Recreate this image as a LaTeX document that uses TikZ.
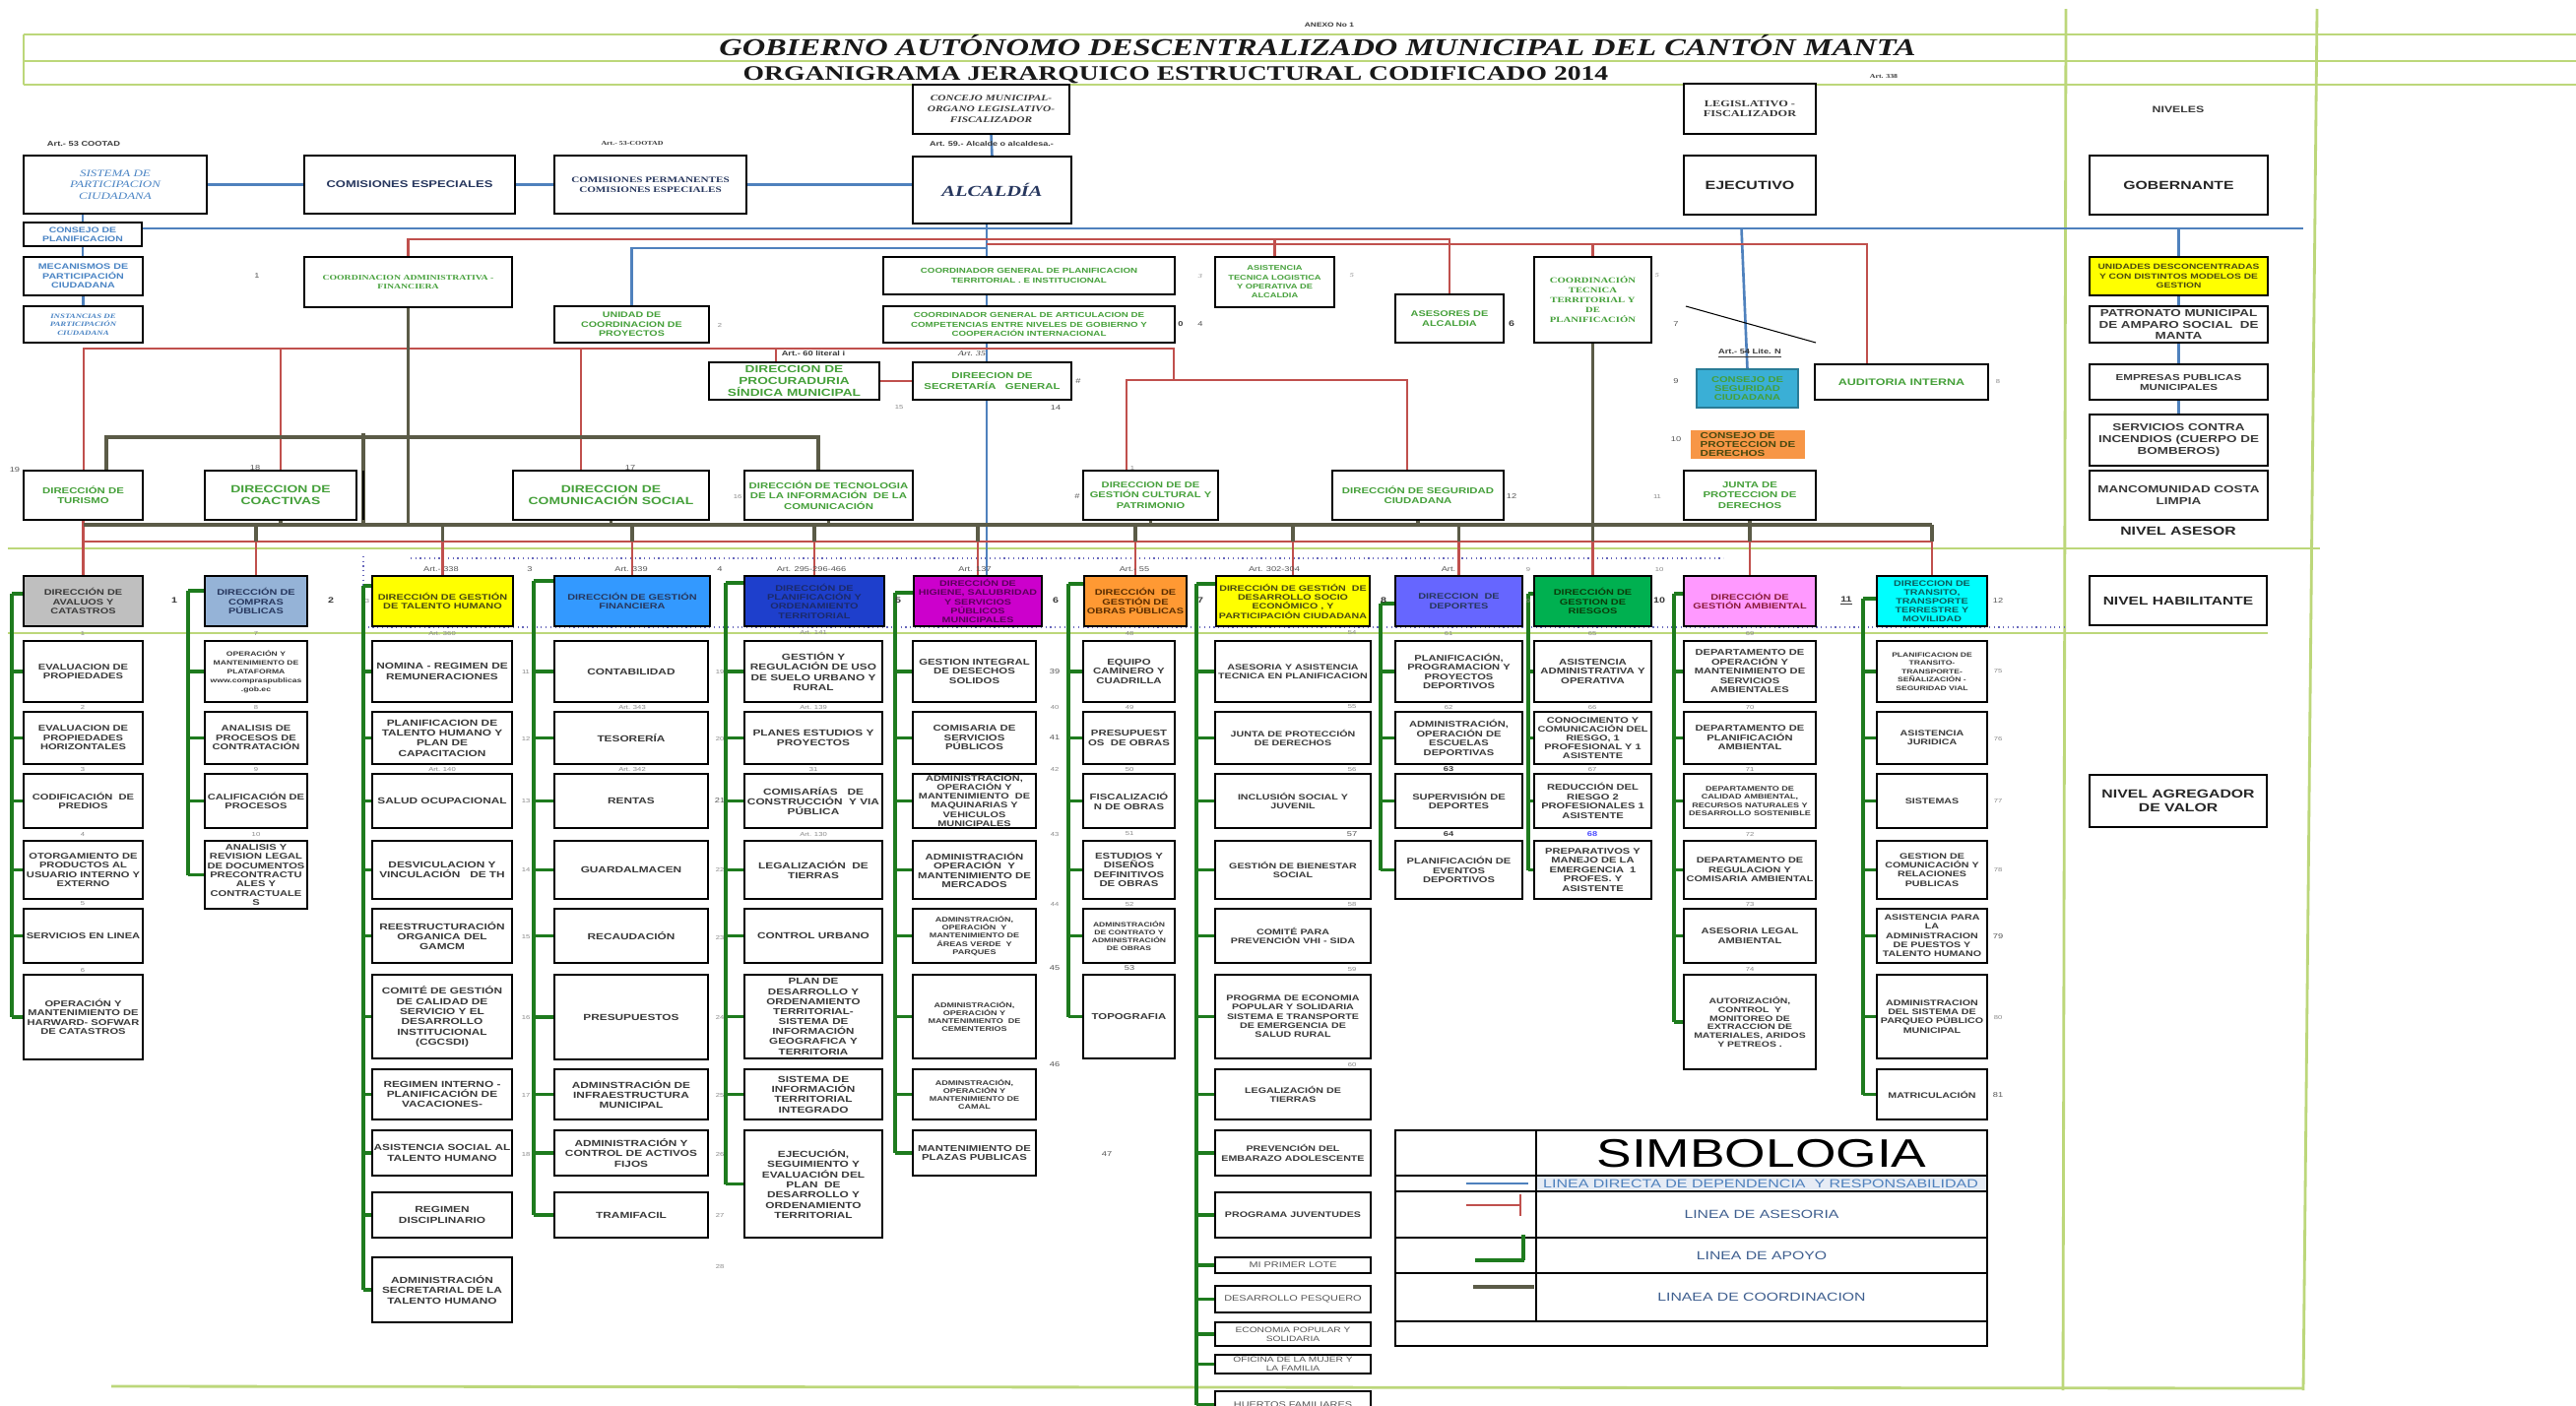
\documentclass[tikz,border=0pt]{standalone}
\usepackage{fontspec}
\setmainfont[FakeStretch=1.32]{Liberation Sans}
\newfontfamily\tnr[FakeStretch=1.32]{Liberation Serif}
\usetikzlibrary{calc}
\pgfdeclarelayer{bg}
\pgfsetlayers{bg,main}
\definecolor{lblue}{HTML}{4F81BD}
\definecolor{lred}{HTML}{C0504D}
\definecolor{dgreen}{HTML}{1E7B1E}
\definecolor{coordc}{HTML}{5B5B47}
\definecolor{fgreen}{HTML}{BCD77A}
\definecolor{gtx}{HTML}{45A03A}
\definecolor{btx}{HTML}{4A84C4}
\definecolor{dtx}{HTML}{3A3A3A}
\definecolor{ltx}{HTML}{8A8A8A}
\definecolor{mtx}{HTML}{555555}
\definecolor{navy}{HTML}{27375E}
\definecolor{dotc}{HTML}{6666BB}
\definecolor{olivetx}{HTML}{4A4A10}
\definecolor{hdbtx}{HTML}{1B2A6B}
\definecolor{hmagtx}{HTML}{5C005C}
\definecolor{brtx}{HTML}{5A2D00}
\definecolor{hgrtx}{HTML}{0B3D0B}
\definecolor{hpinktx}{HTML}{8B1A3A}
\definecolor{hcytx}{HTML}{0B5C5C}
\definecolor{hgray}{HTML}{BFBFBF}
\definecolor{hsteel}{HTML}{95B3D7}
\definecolor{hblue}{HTML}{3399FF}
\definecolor{hdblue}{HTML}{1E3FCC}
\definecolor{hmag}{HTML}{CC00CC}
\definecolor{horange}{HTML}{FF9933}
\definecolor{hviol}{HTML}{6666FF}
\definecolor{hgreen}{HTML}{00B050}
\definecolor{hpink}{HTML}{FF99FF}
\definecolor{hcyan}{HTML}{00FFFF}
\definecolor{hyel}{HTML}{FFFF00}
\definecolor{cyanbox}{HTML}{3AAFD6}
\definecolor{orangebox}{HTML}{F79646}
\definecolor{legbg}{HTML}{E6ECF5}
\definecolor{legtx}{HTML}{3F5F8F}
\newcommand\fsz[2]{\fontsize{#1}{#2}\selectfont}
\newcommand\Bx[7][]{\node[bx,minimum width={(#5-#3)*0.02cm},minimum height={(#6-#4)*0.02cm},#1] (#2) at ({(#3+#5)/2},{(#4+#6)/2}) {#7};}
\newcounter{lbc}
\newcommand\Lb[4][]{\stepcounter{lbc}\node[lbl,#1] (lb\arabic{lbc}) at (#2,#3) {#4};}
\newcommand\Bus[4]{%
  \draw[gr] (#1) -- (#1 -| #2.west);
  \draw[gr] (#1) -- (#1 |- #4.west);
  \foreach \nn in {#3}{\draw[gr] (#1 |- \nn.west) -- (\nn.west);}%
}
\begin{document}
\begin{tikzpicture}[x=0.02cm,y=-0.02cm,
  every node/.style={inner sep=0.6pt,outer sep=0pt},
  bx/.style={draw=black,line width=1.5pt,fill=white,align=center,font=\bfseries\fsz{4.8}{5.4},text=dtx},
  c5/.style={font=\bfseries\fsz{5.1}{5.9}},
  c6/.style={font=\bfseries\fsz{4.9}{5.4}},
  c8/.style={font=\bfseries\fsz{4.6}{5.3}},
  sm/.style={font=\bfseries\fsz{3.9}{4.7}},
  rg/.style={font=\fsz{4.7}{5.3},text=mtx},
  hd/.style={font=\bfseries\fsz{4.7}{5.3}},
  lbl/.style={font=\fsz{3.3}{3.6},text=ltx},
  lbm/.style={font=\fsz{4}{4.2},text=mtx},
  lbb/.style={font=\bfseries\fsz{4.6}{5},text=dtx},
  bl/.style={draw=lblue,line width=1.5pt},
  rd/.style={draw=lred,line width=1.5pt},
  gr/.style={draw=dgreen,line width=2pt},
  co/.style={draw=coordc,line width=1.8pt},
  fr/.style={draw=fgreen,line width=1.6pt}]
\useasboundingbox (0,0) rectangle (2616,1427);

% ---------- titles ----------
\node[font=\tnr\bfseries\itshape\fsz{14}{16},text=black!90,anchor=base] (tit1) at (1338,56) {GOBIERNO AUTÓNOMO DESCENTRALIZADO MUNICIPAL DEL CANTÓN MANTA};
\node[font=\tnr\bfseries\fsz{11.9}{14},text=black!90,anchor=base] (tit2) at (1194,81) {ORGANIGRAMA JERARQUICO ESTRUCTURAL CODIFICADO 2014};

% ---------- row 1 ----------
\Bx[font=\tnr\bfseries\itshape\fsz{4.9}{6.3}]{concejo}{927}{86}{1086}{136}{CONCEJO MUNICIPAL-\\ORGANO LEGISLATIVO-\\FISCALIZADOR}
\Bx[font=\tnr\bfseries\itshape\fsz{8.8}{10},text=navy]{alc}{927}{159}{1088}{227}{ALCALDÍA}
\Bx[font=\tnr\itshape\fsz{5.6}{6.6},text=btx]{sis}{24}{158}{210}{217}{SISTEMA DE\\PARTICIPACION\\CIUDADANA}
\Bx[font=\bfseries\fsz{5.6}{6.5},text=navy]{cesp}{309}{158}{523}{217}{COMISIONES ESPECIALES}
\Bx[font=\tnr\bfseries\fsz{4.8}{5.5},text=navy]{cperm}{563}{158}{758}{217}{COMISIONES PERMANENTES\\COMISIONES ESPECIALES}
\Bx[font=\tnr\bfseries\fsz{5.3}{6}]{legis}{1710}{85}{1844}{136}{LEGISLATIVO -\\FISCALIZADOR}
\Bx[font=\bfseries\fsz{6.9}{8},text=black!85]{ejec}{1710}{158}{1844}{218}{EJECUTIVO}
\Bx[font=\bfseries\fsz{6.8}{8},text=black!85]{gob}{2122}{158}{2303}{218}{GOBERNANTE}
\node[font=\bfseries\fsz{5.3}{6},text=dtx] (nive) at (2212,111) {NIVELES};

% ---------- row 2 ----------
\Bx[font=\bfseries\fsz{4.5}{5},text=btx]{cpl}{24}{226}{144}{250}{CONSEJO DE\\PLANIFICACION}
\Bx[font=\bfseries\fsz{4.6}{5.4},text=btx]{mec}{24}{261}{145}{300}{MECANISMOS DE\\PARTICIPACIÓN\\CIUDADANA}
\Bx[font=\tnr\bfseries\itshape\fsz{3.8}{4.9},text=btx]{ins}{24}{311}{145}{348}{INSTANCIAS DE\\PARTICIPACIÓN\\CIUDADANA}
\Bx[font=\tnr\bfseries\fsz{4.2}{4.7},text=gtx]{cadm}{309}{261}{520}{312}{COORDINACION ADMINISTRATIVA -\\FINANCIERA}
\Bx[font=\bfseries\fsz{4.6}{5.5},text=gtx]{ucp}{563}{311}{720}{348}{UNIDAD DE\\COORDINACION DE\\PROYECTOS}
\Bx[font=\bfseries\fsz{4.2}{5.4},text=gtx]{cgp}{897}{261}{1193}{299}{COORDINADOR GENERAL DE PLANIFICACION\\TERRITORIAL . E INSTITUCIONAL}
\Bx[font=\bfseries\fsz{4.2}{5.3},text=gtx]{cga}{897}{311}{1193}{348}{COORDINADOR GENERAL DE ARTICULACION DE\\COMPETENCIAS ENTRE NIVELES DE GOBIERNO Y\\COOPERACIÓN INTERNACIONAL}
\Bx[font=\bfseries\fsz{4}{5.3},text=gtx]{asis}{1234}{261}{1355}{312}{ASISTENCIA\\TECNICA LOGISTICA\\Y OPERATIVA DE\\ALCALDIA}
\Bx[font=\bfseries\fsz{4.7}{5.4},text=gtx]{ases}{1417}{299}{1527}{348}{ASESORES DE\\ALCALDIA}
\Bx[font=\tnr\bfseries\fsz{4.6}{5.7},text=gtx]{ctec}{1558}{261}{1677}{348}{COORDINACIÓN\\TECNICA\\TERRITORIAL Y\\DE\\PLANIFICACIÓN}
\Bx[draw=cyanbox!70!black,line width=0.8pt,fill=cyanbox,font=\bfseries\fsz{4.8}{5.1},text=gtx]{cseg}{1723}{375}{1826}{414}{CONSEJO DE\\SEGURIDAD\\CIUDADANA}
\Bx[draw=none,fill=orangebox,font=\bfseries\fsz{5}{5.1},text=olivetx,align=left]{cpro}{1717}{437}{1833}{466}{CONSEJO DE\\PROTECCION DE\\DERECHOS}
\Bx[font=\bfseries\fsz{5.4}{6},text=gtx]{aud}{1843}{370}{2019}{406}{AUDITORIA INTERNA}
\Bx[fill=hyel,font=\bfseries\fsz{4.4}{5.3},text=olivetx]{unid}{2122}{261}{2303}{300}{UNIDADES DESCONCENTRADAS\\Y CON DISTINTOS MODELOS DE\\GESTION}
\Bx[font=\bfseries\fsz{5.8}{6.7}]{patr}{2122}{311}{2303}{348}{PATRONATO MUNICIPAL\\DE AMPARO SOCIAL \ DE\\MANTA}
\Bx[font=\bfseries\fsz{5}{5.7}]{empr}{2122}{370}{2303}{406}{EMPRESAS PUBLICAS\\MUNICIPALES}
\Bx[font=\bfseries\fsz{5.8}{6.8}]{serv}{2122}{421}{2303}{473}{SERVICIOS CONTRA\\INCENDIOS (CUERPO DE\\BOMBEROS)}
\Bx[font=\bfseries\fsz{5.8}{6.8}]{manc}{2122}{478}{2303}{528}{MANCOMUNIDAD COSTA\\LIMPIA}
\node[font=\bfseries\fsz{6.8}{8},text=black!85] (nase) at (2212,539) {NIVEL ASESOR};
\Bx[font=\bfseries\fsz{6.7}{8},text=black!85,line width=1.2pt]{nhab}{2122}{585}{2302}{635}{NIVEL HABILITANTE}
\Bx[font=\bfseries\fsz{6.8}{7.8},text=black!85,line width=1.2pt]{nagr}{2122}{787}{2302}{840}{NIVEL AGREGADOR\\DE VALOR}

% ---------- row 3 ----------
\Bx[font=\bfseries\fsz{5.9}{7},text=gtx]{proc}{720}{368}{893}{406}{DIRECCION DE\\PROCURADURIA\\SÍNDICA MUNICIPAL}
\Bx[font=\bfseries\fsz{4.9}{6},text=gtx]{secr}{927}{368}{1088}{406}{DIREECION DE\\SECRETARÍA \ \ GENERAL}
\Bx[font=\bfseries\fsz{4.9}{5.5},text=gtx]{tur}{24}{478}{145}{528}{DIRECCIÓN DE\\TURISMO}
\Bx[font=\bfseries\fsz{6}{6.7},text=gtx]{coac}{208}{478}{362}{528}{DIRECCION DE\\COACTIVAS}
\Bx[font=\bfseries\fsz{6}{6.7},text=gtx]{csoc}{521}{478}{720}{528}{DIRECCION DE\\COMUNICACIÓN SOCIAL}
\Bx[font=\bfseries\fsz{4.9}{5.9},text=gtx]{tec}{756}{478}{927}{528}{DIRECCIÓN DE TECNOLOGIA\\DE LA INFORMACIÓN \ DE LA\\COMUNICACIÓN}
\Bx[font=\bfseries\fsz{4.8}{5.9},text=gtx]{cult}{1100}{478}{1237}{528}{DIRECCION DE DE\\GESTIÓN CULTURAL Y\\PATRIMONIO}
\Bx[font=\bfseries\fsz{4.9}{5.5},text=gtx]{seg}{1353}{478}{1527}{528}{DIRECCIÓN DE SEGURIDAD\\CIUDADANA}
\Bx[font=\bfseries\fsz{4.9}{5.8},text=gtx]{jun}{1710}{478}{1844}{528}{JUNTA DE\\PROTECCION DE\\DERECHOS}

% ---------- row 4 headers ----------
\Bx[hd,fill=hgray]{hav}{24}{585}{145}{636}{DIRECCIÓN DE\\AVALUOS Y\\CATASTROS}
\Bx[hd,fill=hsteel,text=navy]{hco}{208}{585}{312}{636}{DIRECCIÓN DE\\COMPRAS\\PÚBLICAS}
\Bx[hd,fill=hyel,text=olivetx]{hta}{378}{585}{521}{636}{DIRECCIÓN DE GESTIÓN\\DE TALENTO HUMANO}
\Bx[hd,fill=hblue,text=navy]{hfi}{563}{585}{721}{636}{DIRECCIÓN DE GESTIÓN\\FINANCIERA}
\Bx[hd,fill=hdblue,text=hdbtx]{hpl}{756}{585}{898}{636}{DIRECCIÓN DE\\PLANIFICACIÓN Y\\ORDENAMIENTO\\TERRITORIAL}
\Bx[hd,fill=hmag,text=hmagtx,font=\bfseries\fsz{4.6}{5.2}]{hhi}{928}{585}{1058}{636}{DIRECCIÓN DE\\HIGIENE, SALUBRIDAD\\Y SERVICIOS\\PÚBLICOS\\MUNICIPALES}
\Bx[hd,fill=horange,text=brtx]{hob}{1101}{585}{1205}{636}{DIRECCIÓN \ DE\\GESTIÓN DE\\OBRAS PÚBLICAS}
\Bx[hd,fill=hyel,text=olivetx,font=\bfseries\fsz{4.6}{5.3}]{hso}{1235}{585}{1391}{636}{DIRECCIÓN DE GESTIÓN \ DE\\DESARROLLO SOCIO\\ECONÓMICO , Y\\PARTICIPACIÓN CIUDADANA}
\Bx[hd,fill=hviol,text=navy]{hde}{1417}{585}{1546}{636}{DIRECCION \ DE\\DEPORTES}
\Bx[hd,fill=hgreen,text=hgrtx]{hri}{1558}{585}{1677}{636}{DIRECCIÓN DE\\GESTION DE\\RIESGOS}
\Bx[hd,fill=hpink,text=hpinktx]{ham}{1710}{585}{1844}{636}{DIRECCIÓN DE\\GESTIÓN AMBIENTAL}
\Bx[hd,fill=hcyan,text=hcytx,font=\bfseries\fsz{4.6}{5.2}]{htr}{1906}{585}{2018}{636}{DIRECCION DE\\TRANSITO,\\TRANSPORTE\\TERRESTRE Y\\MOVILIDAD}

% ---------- col 1 ----------
\Bx{a1}{24}{651}{145}{713}{EVALUACION DE\\PROPIEDADES}
\Bx{a2}{24}{723}{145}{776}{EVALUACION DE\\PROPIEDADES\\HORIZONTALES}
\Bx{a3}{24}{786}{145}{841}{CODIFICACIÓN \ DE\\PREDIOS}
\Bx{a4}{24}{854}{145}{913}{OTORGAMIENTO DE\\PRODUCTOS AL\\USUARIO INTERNO Y\\EXTERNO}
\Bx{a5}{24}{923}{145}{978}{SERVICIOS EN LINEA}
\Bx{a6}{24}{990}{145}{1076}{OPERACIÓN Y\\MANTENIMIENTO DE\\HARWARD- SOFWAR\\DE CATASTROS}
% ---------- col 2 ----------
\Bx[font=\bfseries\fsz{3.7}{5.1}]{c1}{208}{651}{312}{713}{OPERACIÓN Y\\MANTENIMIENTO DE\\PLATAFORMA\\www.compraspublicas\\.gob.ec}
\Bx{c2}{208}{723}{312}{776}{ANALISIS DE\\PROCESOS DE\\CONTRATACIÓN}
\Bx{c3}{208}{786}{312}{841}{CALIFICACIÓN DE\\PROCESOS}
\Bx[font=\bfseries\fsz{4.8}{5.3}]{c4}{208}{854}{312}{923}{ANALISIS Y\\REVISION LEGAL\\DE DOCUMENTOS\\PRECONTRACTU\\ALES Y\\CONTRACTUALE\\S}
% ---------- col 3 ----------
\Bx[c5]{t1}{378}{651}{520}{713}{NOMINA - REGIMEN DE\\REMUNERACIONES}
\Bx[c5]{t2}{378}{723}{520}{776}{PLANIFICACION DE\\TALENTO HUMANO Y\\PLAN DE\\CAPACITACION}
\Bx[c5]{t3}{378}{786}{520}{841}{SALUD OCUPACIONAL}
\Bx[c5]{t4}{378}{854}{520}{913}{DESVICULACION Y\\VINCULACIÓN \ \ DE TH}
\Bx[c5]{t5}{378}{923}{520}{978}{REESTRUCTURACIÓN\\ORGANICA DEL\\GAMCM}
\Bx[c5]{t6}{378}{990}{520}{1075}{COMITÉ DE GESTIÓN\\DE CALIDAD DE\\SERVICIO Y EL\\DESARROLLO\\INSTITUCIONAL\\(CGCSDI)}
\Bx[c5]{t7}{378}{1086}{520}{1137}{REGIMEN INTERNO -\\PLANIFICACIÓN DE\\VACACIONES-}
\Bx[c5]{t8}{378}{1148}{520}{1194}{ASISTENCIA SOCIAL AL\\TALENTO HUMANO}
\Bx[c5]{t9}{378}{1211}{520}{1257}{REGIMEN\\DISCIPLINARIO}
\Bx[c5]{t10}{378}{1277}{520}{1343}{ADMINISTRACIÓN\\SECRETARIAL DE LA\\TALENTO HUMANO}
% ---------- col 4 ----------
\Bx[c5]{f1}{563}{651}{719}{713}{CONTABILIDAD}
\Bx[c5]{f2}{563}{723}{719}{776}{TESORERÍA}
\Bx[c5]{f3}{563}{786}{719}{841}{RENTAS}
\Bx[c5]{f4}{563}{854}{719}{913}{GUARDALMACEN}
\Bx[c5]{f5}{563}{923}{719}{978}{RECAUDACIÓN}
\Bx[c5]{f6}{563}{990}{719}{1076}{PRESUPUESTOS}
\Bx[c5]{f7}{563}{1086}{719}{1137}{ADMINSTRACIÓN DE\\INFRAESTRUCTURA\\MUNICIPAL}
\Bx[c5]{f8}{563}{1148}{719}{1194}{ADMINISTRACIÓN Y\\CONTROL DE ACTIVOS\\FIJOS}
\Bx[c5]{f9}{563}{1211}{719}{1257}{TRAMIFACIL}
% ---------- col 5 ----------
\Bx[c5]{p1}{756}{651}{896}{713}{GESTIÓN Y\\REGULACIÓN DE USO\\DE SUELO URBANO Y\\RURAL}
\Bx[c5]{p2}{756}{723}{896}{776}{PLANES ESTUDIOS Y\\PROYECTOS}
\Bx[c5]{p3}{756}{786}{896}{841}{COMISARÍAS \ \ DE\\CONSTRUCCIÓN \ Y VIA\\PÚBLICA}
\Bx[c5]{p4}{756}{854}{896}{913}{LEGALIZACIÓN \ DE\\TIERRAS}
\Bx[c5]{p5}{756}{923}{896}{978}{CONTROL URBANO}
\Bx[font=\bfseries\fsz{5}{5.8}]{p6}{756}{990}{896}{1075}{PLAN DE\\DESARROLLO Y\\ORDENAMIENTO\\TERRITORIAL-\\SISTEMA DE\\INFORMACIÓN\\GEOGRAFICA Y\\TERRITORIA}
\Bx[c5]{p7}{756}{1086}{896}{1137}{SISTEMA DE\\INFORMACIÓN\\TERRITORIAL\\INTEGRADO}
\Bx[c5]{p8}{756}{1148}{896}{1257}{EJECUCIÓN,\\SEGUIMIENTO Y\\EVALUACIÓN DEL\\PLAN \ DE\\DESARROLLO Y\\ORDENAMIENTO\\TERRITORIAL}
% ---------- col 6 ----------
\Bx[c6]{s1}{927}{651}{1052}{713}{GESTION INTEGRAL\\DE DESECHOS\\SOLIDOS}
\Bx[c6]{s2}{927}{723}{1052}{776}{COMISARIA DE\\SERVICIOS\\PÚBLICOS}
\Bx[font=\bfseries\fsz{4.7}{5.2}]{s3}{927}{786}{1052}{841}{ADMINISTRACION,\\OPERACIÓN Y\\MANTENIMIENTO \ DE\\MAQUINARIAS Y\\VEHICULOS\\MUNICIPALES}
\Bx[c6]{s4}{927}{854}{1052}{913}{ADMINISTRACIÓN\\OPERACIÓN \ Y\\MANTENIMIENTO DE\\MERCADOS}
\Bx[sm]{s5}{927}{923}{1052}{978}{ADMINSTRACIÓN,\\OPERACIÓN \ Y\\MANTENIMIENTO DE\\ÁREAS VERDE \ Y\\PARQUES}
\Bx[sm]{s6}{927}{990}{1052}{1075}{ADMINISTRACIÓN,\\OPERACIÓN Y\\MANTENIMIENTO \ DE\\CEMENTERIOS}
\Bx[sm]{s7}{927}{1086}{1052}{1137}{ADMINSTRACIÓN,\\OPERACIÓN Y\\MANTENIMIENTO DE\\CAMAL}
\Bx[c6]{s8}{927}{1148}{1052}{1194}{MANTENIMIENTO DE\\PLAZAS PUBLICAS}
% ---------- col 7 ----------
\Bx[c6]{o1}{1100}{651}{1193}{713}{EQUIPO\\CAMINERO Y\\CUADRILLA}
\Bx[c6]{o2}{1100}{723}{1193}{776}{PRESUPUEST\\OS \ DE OBRAS}
\Bx[c6]{o3}{1100}{786}{1193}{841}{FISCALIZACIÓ\\N DE OBRAS}
\Bx[c6]{o4}{1100}{854}{1193}{913}{ESTUDIOS Y\\DISEÑOS\\DEFINITIVOS\\DE OBRAS}
\Bx[font=\bfseries\fsz{3.7}{4.6}]{o5}{1100}{923}{1193}{978}{ADMINSTRACIÓN\\DE CONTRATO Y\\ADMINISTRACIÓN\\DE OBRAS}
\Bx[c6]{o6}{1100}{990}{1193}{1075}{TOPOGRAFIA}
% ---------- col 8 ----------
\Bx[c8]{e1}{1234}{651}{1392}{713}{ASESORIA Y ASISTENCIA\\TECNICA EN PLANIFICACION}
\Bx[c8]{e2}{1234}{723}{1392}{776}{JUNTA DE PROTECCIÓN\\DE DERECHOS}
\Bx[c8]{e3}{1234}{786}{1392}{841}{INCLUSIÓN SOCIAL Y\\JUVENIL}
\Bx[c8]{e4}{1234}{854}{1392}{913}{GESTIÓN DE BIENESTAR\\SOCIAL}
\Bx[c8]{e5}{1234}{923}{1392}{978}{COMITÉ PARA\\PREVENCIÓN VHI - SIDA}
\Bx[c8]{e6}{1234}{990}{1392}{1075}{PROGRMA DE ECONOMIA\\POPULAR Y SOLIDARIA\\SISTEMA E TRANSPORTE\\DE EMERGENCIA DE\\SALUD RURAL}
\Bx[c8]{e7}{1234}{1086}{1392}{1137}{LEGALIZACIÓN DE\\TIERRAS}
\Bx[c8]{e8}{1234}{1148}{1392}{1194}{PREVENCIÓN DEL\\EMBARAZO ADOLESCENTE}
\Bx[c8]{e9}{1234}{1211}{1392}{1257}{PROGRAMA JUVENTUDES}
\Bx[rg,line width=1pt]{e10}{1234}{1277}{1392}{1293}{MI PRIMER LOTE}
\Bx[rg]{e11}{1234}{1306}{1392}{1333}{DESARROLLO PESQUERO}
\Bx[rg,font=\fsz{4.4}{5}]{e12}{1234}{1343}{1392}{1367}{ECONOMIA POPULAR Y\\SOLIDARIA}
\Bx[rg,font=\fsz{4.4}{5}]{e13}{1234}{1376}{1392}{1395}{OFICINA DE LA MUJER Y\\LA FAMILIA}
\Bx[rg]{e14}{1234}{1413}{1392}{1440}{HUERTOS FAMILIARES}
% ---------- col 9 ----------
\Bx{d1}{1417}{651}{1546}{713}{PLANIFICACIÓN,\\PROGRAMACION Y\\PROYECTOS\\DEPORTIVOS}
\Bx{d2}{1417}{723}{1546}{776}{ADMINISTRACIÓN,\\OPERACIÓN DE\\ESCUELAS\\DEPORTIVAS}
\Bx{d3}{1417}{786}{1546}{841}{SUPERVISIÓN DE\\DEPORTES}
\Bx{d4}{1417}{854}{1546}{913}{PLANIFICACIÓN DE\\EVENTOS\\DEPORTIVOS}
% ---------- col 10 ----------
\Bx[c6]{r1}{1558}{651}{1677}{713}{ASISTENCIA\\ADMINISTRATIVA Y\\OPERATIVA}
\Bx[font=\bfseries\fsz{4.7}{5.2}]{r2}{1558}{723}{1677}{776}{CONOCIMENTO Y\\COMUNICACIÓN DEL\\RIESGO, 1\\PROFESIONAL Y 1\\ASISTENTE}
\Bx{r3}{1558}{786}{1677}{841}{REDUCCIÓN DEL\\RIESGO 2\\PROFESIONALES 1\\ASISTENTE}
\Bx{r4}{1558}{854}{1677}{913}{PREPARATIVOS Y\\MANEJO DE LA\\EMERGENCIA \ 1\\PROFES. Y\\ASISTENTE}
% ---------- col 11 ----------
\Bx{m1}{1710}{651}{1844}{713}{DEPARTAMENTO DE\\OPERACIÓN Y\\MANTENIMIENTO DE\\SERVICIOS\\AMBIENTALES}
\Bx{m2}{1710}{723}{1844}{776}{DEPARTAMENTO DE\\PLANIFICACIÓN\\AMBIENTAL}
\Bx[font=\bfseries\fsz{3.9}{4.7}]{m3}{1710}{786}{1844}{841}{DEPARTAMENTO DE\\CALIDAD AMBIENTAL,\\RECURSOS NATURALES Y\\DESARROLLO SOSTENIBLE}
\Bx[font=\bfseries\fsz{4.7}{5.4}]{m4}{1710}{854}{1844}{913}{DEPARTAMENTO DE\\REGULACION Y\\COMISARIA AMBIENTAL}
\Bx{m5}{1710}{923}{1844}{978}{ASESORIA LEGAL\\AMBIENTAL}
\Bx[font=\bfseries\fsz{4.5}{5}]{m6}{1710}{990}{1844}{1086}{AUTORIZACIÓN,\\CONTROL \ Y\\MONITOREO DE\\EXTRACCION DE\\MATERIALES, ARIDOS\\Y PETREOS .}
% ---------- col 12 ----------
\Bx[font=\bfseries\fsz{3.7}{4.9}]{n1}{1906}{651}{2018}{713}{PLANIFICACION DE\\TRANSITO-\\TRANSPORTE-\\SEÑALIZACIÓN -\\SEGURIDAD VIAL}
\Bx[c8]{n2}{1906}{723}{2018}{776}{ASISTENCIA\\JURIDICA}
\Bx[c8]{n3}{1906}{786}{2018}{841}{SISTEMAS}
\Bx[c8]{n4}{1906}{854}{2018}{913}{GESTION DE\\COMUNICACIÓN Y\\RELACIONES\\PUBLICAS}
\Bx[c8]{n5}{1906}{923}{2018}{978}{ASISTENCIA PARA\\LA\\ADMINISTRACION\\DE PUESTOS Y\\TALENTO HUMANO}
\Bx[c8]{n6}{1906}{990}{2018}{1075}{ADMINISTRACION\\DEL SISTEMA DE\\PARQUEO PÚBLICO\\MUNICIPAL}
\Bx[c8]{n7}{1906}{1086}{2018}{1137}{MATRICULACIÓN}

% ---------- legend ----------
\Bx[fill=none]{leg}{1417}{1148}{2018}{1367}{}
\node[font=\fsz{23}{24},text=black] (legt) at (1789,1172) {SIMBOLOGIA};
\node[font=\fsz{6.8}{7},text=legtx] (lg2) at (1789,1233) {LINEA DE ASESORIA};
\node[font=\fsz{6.8}{7},text=legtx] (lg3) at (1789,1275) {LINEA DE APOYO};
\node[font=\fsz{6.8}{7},text=legtx] (lg4) at (1789,1317) {LINAEA DE COORDINACION};

% ---------- labels ----------
\Lb[font=\bfseries\fsz{3.6}{4},text=dtx]{1350}{25}{ANEXO No 1}
\Lb[font=\tnr\bfseries\fsz{3.4}{4},text=dtx]{1913}{78}{Art. 338}
\Lb[font=\bfseries\fsz{4}{4.5},text=dtx]{85}{146}{Art.- 53 COOTAD}
\Lb[font=\tnr\bfseries\fsz{3.4}{4},text=dtx]{642}{146}{Art.- 53-COOTAD}
\Lb[font=\bfseries\fsz{3.9}{4.5},text=dtx]{1007}{146}{Art. 59.- Alcalde o alcaldesa.-}
\Lb[lbm]{261}{280}{1}
\Lb{731}{330}{2}
\Lb[font=\tnr\itshape\fsz{3.5}{4}]{1219}{280}{3}
\Lb[font=\tnr\itshape\fsz{3.5}{4}]{1373}{280}{5}
\Lb[font=\bfseries\fsz{4}{4},text=dtx]{1199}{329}{0}
\Lb[lbm]{1219}{329}{4}
\Lb[lbb]{1535}{329}{6}
\Lb[font=\tnr\itshape\fsz{3.5}{4}]{1683}{280}{5}
\Lb[lbm]{1702}{329}{7}
\Lb[lbm]{1702}{387}{9}
\Lb[lbm]{1702}{446}{10}
\Lb{1683}{504}{11}
\Lb{2029}{387}{8}
\Lb[font=\bfseries\fsz{4}{4.5},text=dtx]{1777}{359}{\underline{Art.- 54 Lite. N}}
\Lb[font=\bfseries\fsz{4}{4.5},text=dtx]{826}{359}{Art.- 60 literal i}
\Lb[font=\tnr\itshape\fsz{4.2}{4.5},text=dtx]{987}{359}{Art. 35}
\Lb[lbm]{1095}{387}{\#}
\Lb{913}{414}{15}
\Lb[lbm]{1072}{414}{14}
\Lb[lbm]{15}{477}{19}
\Lb[lbm]{259}{475}{18}
\Lb[lbm]{640}{475}{17}
\Lb{749}{504}{16}
\Lb[lbm]{1094}{504}{\#}
\Lb{1150}{475}{1}
\Lb[lbm]{1535}{504}{12}
\Lb[lbm]{448}{578}{Art.- 338}
\Lb[lbm]{538}{578}{3}
\Lb[lbm]{641}{578}{Art. 339}
\Lb[lbm]{731}{578}{4}
\Lb[lbm]{824}{578}{Art. 295-296-466}
\Lb[lbm]{990}{578}{Art. 137}
\Lb[lbm]{1152}{578}{Art.- 55}
\Lb[lbm]{1294}{578}{Art. 302-304}
\Lb[lbm]{1471}{578}{Art.}
\Lb{1552}{578}{9}
\Lb{1685}{578}{10}
\Lb[lbb]{177}{610}{1}
\Lb[lbb]{336}{610}{2}
\Lb{373}{610}{3}
\Lb[lbb]{912}{610}{5}
\Lb[lbb]{1072}{610}{6}
\Lb[lbb]{1219}{610}{7}
\Lb[lbb]{1405}{610}{8}
\Lb{1552}{610}{9}
\Lb[lbb]{1685}{610}{10}
\Lb[lbb]{1875}{610}{\underline{11}}
\Lb[lbm]{2029}{610}{12}
\foreach \t/\yy in {1/643,2/718,3/781,4/847,5/918,6/985} {\Lb{84}{\yy}{\t}}
\foreach \t/\yy in {7/643,8/718,9/781,10/847} {\Lb{260}{\yy}{\t}}
\Lb{449}{643}{Art. 360}
\Lb{449}{781}{Art. 140}
\Lb{642}{718}{Art. 343}
\Lb{642}{781}{Art. 342}
\foreach \t/\yy in {11/682,12/750,13/813,14/883,15/952,16/1033,17/1112,18/1172} {\Lb{534}{\yy}{\t}}
\Lb{826}{643}{Art. 141}
\Lb{826}{718}{Art. 139}
\Lb{826}{781}{31}
\Lb{826}{847}{Art. 130}
\foreach \t/\yy in {19/682,20/750,22/883,23/952,24/1033,25/1112,26/1172,27/1234,28/1286} {\Lb{731}{\yy}{\t}}
\Lb[lbm]{731}{813}{21}
\foreach \t/\yy in {40/718,42/781,43/847,44/918} {\Lb{1071}{\yy}{\t}}
\foreach \t/\yy in {39/682,41/749,45/983,46/1081} {\Lb[lbm]{1071}{\yy}{\t}}
\Lb[lbm]{1124}{1172}{47}
\foreach \t/\yy in {48/643,49/718,50/781,51/847,52/918} {\Lb{1147}{\yy}{\t}}
\Lb[lbm]{1147}{983}{53}
\foreach \t/\yy in {54/643,55/718,56/781,58/918,59/984,60/1081} {\Lb{1373}{\yy}{\t}}
\Lb[lbm]{1373}{847}{57}
\foreach \t/\yy in {61/643,62/718} {\Lb{1471}{\yy}{\t}}
\Lb[font=\bfseries\fsz{4}{4.2},text=dtx]{1471}{781}{63}
\Lb[font=\bfseries\fsz{4}{4.2},text=dtx]{1471}{847}{64}
\foreach \t/\yy in {65/643,66/718,67/781} {\Lb{1617}{\yy}{\t}}
\Lb[font=\bfseries\fsz{4}{4.2},text=blue!70]{1617}{847}{68}
\foreach \t/\yy in {69/643,70/718,71/781,72/847,73/918,74/984} {\Lb{1777}{\yy}{\t}}
\foreach \t/\yy in {75/682,76/750,77/813,78/883,80/1033} {\Lb{2029}{\yy}{\t}}
\Lb[lbm]{2029}{951}{79}
\Lb[lbm]{2029}{1112}{81}

% ================= background layer: frames and connectors =================
\begin{pgfonlayer}{bg}
\fill[white] (0,0) rectangle (2616,1427);
% green frame
\draw[fr] (24,35) -- (2616,35);
\draw[fr] (24,62) -- (2616,62);
\draw[fr] (24,86) -- (2616,86);
\draw[fr] (24,35) -- (24,86);
\draw[fr] (2098,9) -- (2095,1412);
\draw[fr] (2353,9) -- (2339,1412);
\draw[fr] (8,557) -- (2356,557);
\draw[fr] (8,643) -- (2303,643);
\draw[fr] (113,1408) -- (2339,1410);
% dotted frame
\draw[dotc,dotted,line width=0.7pt] (417,567) -- (1750,567);
\draw[dotc,dotted,line width=0.7pt] (369,637) -- (2098,637);
\draw[dotc,dotted,line width=0.7pt] (369,565) -- (369,637);
% coordinates of buses
\coordinate (bAe) at (2339,232);
\coordinate (bCa) at (1002,252);
\coordinate (R1) at (0,243);
\coordinate (R2) at (0,248);
\coordinate (R3) at (0,354);
\coordinate (R4) at (0,386);
\coordinate (R5) at (0,550);
\coordinate (C1) at (0,533);
\coordinate (r2a) at (1002,248);
\coordinate (r2b) at (1896,248);
\coordinate (r3a) at (85,354);
\coordinate (r3b) at (1192,354);
\coordinate (r3c) at (590,354);
\coordinate (r3d) at (788,354);
\coordinate (r4a) at (1144,386);
\coordinate (r4b) at (1429,386);
\coordinate (k1) at (108,444);
\coordinate (k2) at (831,444);
\coordinate (k3) at (369,440);
% blue lines
\draw[bl] (cpl.east |- bAe) -- (bAe);
\draw[bl] (concejo.south) -- (alc.north);
\draw[bl] (sis.east) -- (cesp.west);
\draw[bl] (cesp.east) -- (cperm.west);
\draw[bl] (cperm.east) -- (cperm.east -| alc.west);
\draw[bl] (cpl.north) -- (cpl.north |- sis.south);
\draw[bl] (cpl.south) -- (cpl.south |- mec.north);
\draw[bl] (mec.south) -- (mec.south |- ins.north);
\draw[bl] (alc.south -| bCa) -- (cgp.north -| bCa);
\draw[bl] (bCa) -| (ucp.north);
\draw[bl] (cgp.south -| bCa) -- (cga.north -| bCa);
\draw[bl] (cga.south -| bCa) -- (secr.north -| bCa);
\draw[bl] (secr.south -| bCa) -- (hhi.north -| bCa);
\draw[bl] (unid.north) -- (unid.north |- bAe);
\draw[bl] (unid.south) -- (unid.south |- patr.north);
\draw[bl] (patr.south) -- (patr.south |- empr.north);
\draw[bl] (empr.south) -- (empr.south |- serv.north);
\draw[bl] (cseg.north) -- ($(cseg.north |- bAe)+(-6,0)$);
% red lines
\draw[rd] (cadm.north) |- (ases.north |- R1) -- (ases.north);
\draw[rd] (asis.north) -- (asis.north |- R1);
\draw[rd] (r2a) -- (r2b) -- (r2b |- aud.north);
\draw[rd] (ctec.north) -- (ctec.north |- R2);
\draw[rd] (r3a |- tur.north) -- (r3a) -- (r3b) -- (r3b |- R4);
\draw[rd] (coac.north) -- (coac.north |- R3);
\draw[rd] (r3c) -- (r3c |- csoc.north);
\draw[rd] (r3d) -- (r3d |- proc.north);
\draw[rd] (r4a |- cult.north) -- (r4a) -- (r4b) -- (r4b |- seg.north);
\draw[rd] (proc.east) -- (secr.west);
\draw[rd] (tur.south) -- (tur.south |- R5);
\draw[rd] (hav.north |- R5) -- (htr.north |- R5);
\foreach \h in {hav,hco,hta,hfi,hpl,hhi,hob,hso,hde,hri,ham,htr} {\draw[rd] (\h.north |- R5) -- (\h.north);}
% coordination lines
\draw[co] (tur.south |- C1) -- (htr.north |- C1);
\draw[co] (cadm.south) -- (cadm.south |- C1);
\draw[co] (ctec.south) -- (ctec.south |- C1);
\draw[co] (k1 |- tur.north) -- (k1) -- (k2) -- (k2 |- tec.north);
\draw[co] (k3) -- (k3 |- C1);
\foreach \b in {coac,csoc,tec,cult,seg,jun} {\draw[co] (\b.south) -- (\b.south |- C1);}
\foreach \h in {hco,hta,hfi,hpl,hhi,hob,hso,hde,hri,ham,htr} {\draw[co] (\h.north |- C1) -- (\h.north |- R5);}
\draw[black,line width=0.6pt] (ctec.east |- cgp.south) ++(35,12) -- (jun.east |- ases.south);
% green support buses
\coordinate (gb1) at (12,603);
\coordinate (gb2) at (191,600);
\coordinate (gb3) at (369,595);
\coordinate (gb4) at (542,590);
\coordinate (gb5) at (737,592);
\coordinate (gb6) at (909,602);
\coordinate (gb7) at (1085,593);
\coordinate (gb8) at (1215,593);
\coordinate (gb9) at (1402,613);
\coordinate (gb10) at (1552,603);
\coordinate (gb11) at (1700,603);
\coordinate (gb12) at (1892,608);
\Bus{gb1}{hav}{a1,a2,a3,a4,a5,a6}{a6}
\Bus{gb2}{hco}{c1,c2,c3,c4}{c4}
\Bus{gb3}{hta}{t1,t2,t3,t4,t5,t6,t7,t8,t9,t10}{t10}
\Bus{gb4}{hfi}{f1,f2,f3,f4,f5,f6,f7,f8,f9}{f9}
\Bus{gb5}{hpl}{p1,p2,p3,p4,p5,p6,p7,p8}{p8}
\Bus{gb6}{hhi}{s1,s2,s3,s4,s5,s6,s7,s8}{s8}
\Bus{gb7}{hob}{o1,o2,o3,o4,o5,o6}{o6}
\Bus{gb8}{hso}{e1,e2,e3,e4,e5,e6,e7,e8,e9,e10,e11,e12,e13,e14}{e14}
\Bus{gb9}{hde}{d1,d2,d3,d4}{d4}
\Bus{gb10}{hri}{r1,r2,r3,r4}{r4}
\Bus{gb11}{ham}{m1,m2,m3,m4,m5,m6}{m6}
\Bus{gb12}{htr}{n1,n2,n3,n4,n5,n6,n7}{n7}
\end{pgfonlayer}

% ---------- legend internals ----------
\fill[legbg] (1560,1195) rectangle (2017,1209);
\node[font=\fsz{6.9}{7},text=lblue] (lg1) at (1788,1202) {LINEA DIRECTA DE DEPENDENCIA \ Y RESPONSABILIDAD};
\draw[line width=1.2pt] (1560,1148) -- (1560,1342);
\foreach \yy in {1194,1210,1257,1293,1342} {\draw[line width=1.2pt] (1417,\yy) -- (2018,\yy);}
\draw[bl] (1489,1202) -- (1552,1202);
\draw[rd] (1489,1224) -- (1544,1224);
\draw[rd] (1544,1213) -- (1544,1235);
\draw[gr] (1498,1280) -- (1548,1280);
\draw[gr] (1547,1254) -- (1547,1280);
\draw[co] (1496,1307) -- (1558,1307);
\draw[line width=1pt] (coac.north east) ++(7,0) -- ($(coac.south east)+(7,0)$);
\end{tikzpicture}
\end{document}
